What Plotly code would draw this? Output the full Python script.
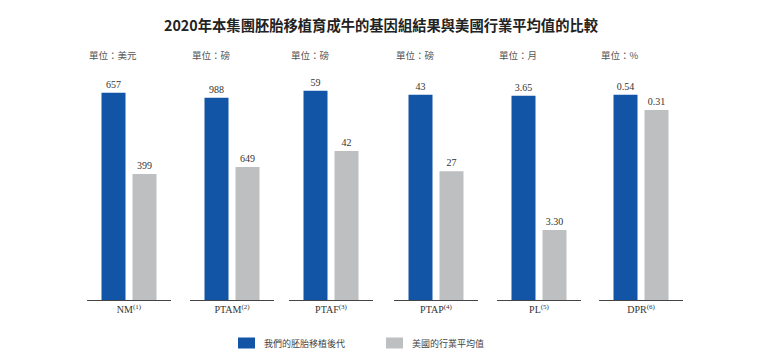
import plotly.graph_objects as go

# ---- data ----
metrics = ["NM", "PTAM", "PTAF", "PTAP", "PL", "DPR"]
notes = ["(1)", "(2)", "(3)", "(4)", "(5)", "(6)"]
units = ["單位：美元", "單位：磅", "單位：磅", "單位：磅", "單位：月", "單位：%"]
ours = [657, 988, 59, 43, 3.65, 0.54]
us_avg = [399, 649, 42, 27, 3.30, 0.31]
decimals = [0, 0, 0, 0, 2, 2]
series_names = ["我們的胚胎移植後代", "美國的行業平均值"]
title = "2020年本集團胚胎移植育成牛的基因組結果與美國行業平均值的比較"

# ---- styling / layout constants ----
colors = ["#1254A6", "#BEBFC1"]
W, H = 770, 362
panel_left_px = [87, 190, 289, 394, 497, 599]
panel_w_px = 84
y_bottom_px, y_top_px = 300, 80
# per-panel value axis ranges (each panel has its own scale)
y_ranges = [(0, 697.3), (0, 1074.5), (0, 62.0), (0, 46.1), (3.1175, 3.691), (-2.546, 0.761)]

SERIF = "Liberation Serif, Times New Roman, serif"
CJK = "Noto Sans CJK TC, Noto Sans CJK SC, sans-serif"

fig = go.Figure()
layout_axes = {}
annotations = []

for i, m in enumerate(metrics):
    n = i + 1
    xa = "x" if n == 1 else f"x{n}"
    ya = "y" if n == 1 else f"y{n}"
    floor = y_ranges[i][0]
    fmt = "{:.%df}" % decimals[i]
    for s, vals in enumerate([ours, us_avg]):
        v = vals[i]
        fig.add_trace(go.Bar(
            x=[m], y=[v - floor], base=[floor],
            name=series_names[s], showlegend=False,
            marker=dict(color=colors[s], line=dict(width=0)),
            text=[fmt.format(v)], textposition="outside",
            textfont=dict(family=SERIF, size=10, color="#333333"),
            cliponaxis=False,
            offsetgroup=str(s),
            xaxis=xa, yaxis=ya,
            hovertemplate=f"{m}<br>{series_names[s]}: {fmt.format(v)}<extra></extra>",
        ))
    x0 = panel_left_px[i] / W
    x1 = (panel_left_px[i] + panel_w_px) / W
    layout_axes["xaxis" if n == 1 else f"xaxis{n}"] = dict(
        domain=[x0, x1], anchor=ya, type="category",
        range=[-0.5, 0.5],
        tickmode="array", tickvals=[m],
        ticktext=[f"{m}<sup>{notes[i]}</sup>"],
        tickfont=dict(family=SERIF, size=10, color="#333333"),
        showline=True, linecolor="#444444", linewidth=1.2,
        ticks="inside", tickson="boundaries", ticklen=3, tickwidth=1.2,
        tickcolor="#444444",
        showgrid=False, zeroline=False, fixedrange=True,
    )
    layout_axes["yaxis" if n == 1 else f"yaxis{n}"] = dict(
        domain=[1 - y_bottom_px / H, 1 - y_top_px / H], anchor=xa,
        range=list(y_ranges[i]), visible=False, fixedrange=True,
    )
    annotations.append(dict(
        text=units[i], xref="paper", yref="paper",
        x=x0, y=1 - 55 / H, xanchor="left", yanchor="middle",
        showarrow=False, font=dict(family=CJK, size=9.5, color="#555555"),
    ))

# title
annotations.append(dict(
    text=f"<b>{title}</b>", xref="paper", yref="paper",
    x=381 / W, y=1 - 25 / H, xanchor="center", yanchor="middle",
    showarrow=False, font=dict(family=CJK, size=14.3, color="#222222"),
))

# manual legend
shapes = []
legend_x_px = [238, 386]
for s, name in enumerate(series_names):
    lx = legend_x_px[s]
    shapes.append(dict(type="rect", xref="paper", yref="paper",
                       x0=lx / W, x1=(lx + 17) / W,
                       y0=1 - 348.5 / H, y1=1 - 337.5 / H,
                       fillcolor=colors[s], line=dict(width=0)))
    annotations.append(dict(
        text=name, xref="paper", yref="paper",
        x=(lx + 24) / W, y=1 - 343 / H, xanchor="left", yanchor="middle",
        showarrow=False, font=dict(family=CJK, size=9, color="#444444"),
    ))

fig.update_layout(
    width=W, height=H,
    margin=dict(l=0, r=0, t=0, b=0),
    paper_bgcolor="white", plot_bgcolor="white",
    barmode="group", bargap=0.262, bargroupgap=0.2258,
    showlegend=False,
    annotations=annotations, shapes=shapes,
    **layout_axes,
)

fig.write_html(
    "out.html",
    config={"displayModeBar": False},
    post_script="document.body.style.margin='0';document.body.style.overflow='hidden';",
)
